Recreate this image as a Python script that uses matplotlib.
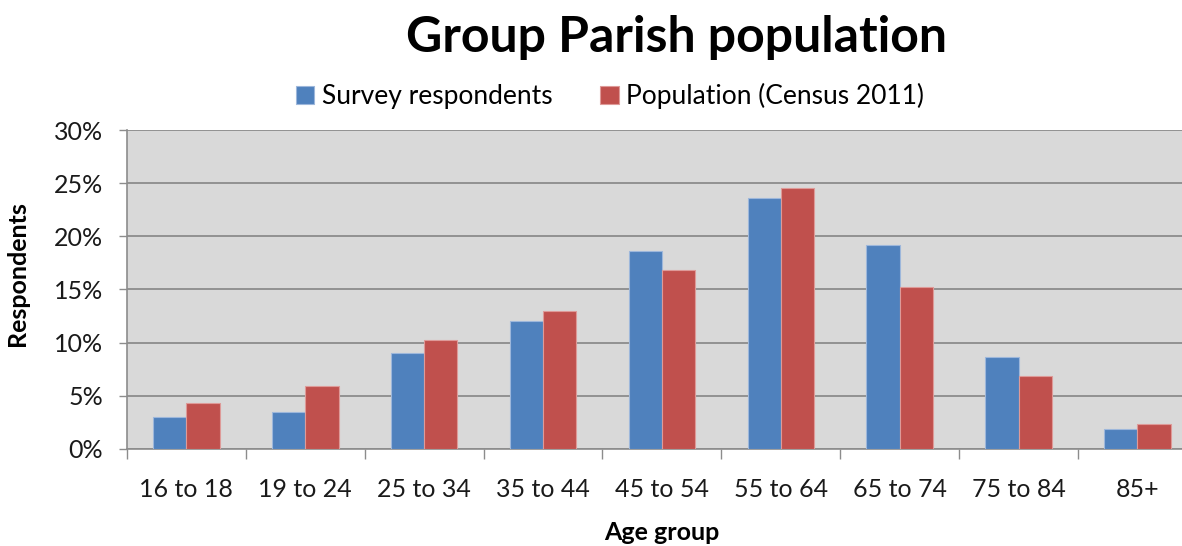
import matplotlib.pyplot as plt
import numpy as np

plt.rcParams['font.family'] = ['Lato', 'DejaVu Sans']

# Data
age_groups = ['16 to 18', '19 to 24', '25 to 34', '35 to 44', '45 to 54',
              '55 to 64', '65 to 74', '75 to 84', '85+']
survey = [3.0, 3.5, 9.0, 12.0, 18.6, 23.6, 19.15, 8.65, 1.9]
census = [4.35, 5.95, 10.25, 12.95, 16.85, 24.5, 15.25, 6.9, 2.35]

fig = plt.figure(figsize=(11.82, 5.46), dpi=100)
ax = fig.add_axes([0.1074, 0.1777, 0.9052, 0.5842])

x = np.arange(len(age_groups))
w = 0.28
ax.bar(x - w / 2, survey, w, color='#4F81BD', edgecolor='#9DB7DB', linewidth=0.8,
       label='Survey respondents', zorder=3)
ax.bar(x + w / 2, census, w, color='#C0504D', edgecolor='#DE9A98', linewidth=0.8,
       label='Population (Census 2011)', zorder=3)

ax.set_facecolor('#D9D9D9')
ax.set_xlim(-0.5, len(age_groups) - 0.5)
ax.set_ylim(0, 30)
ax.set_yticks(range(0, 31, 5))
ax.set_yticklabels([f'{v}%' for v in range(0, 31, 5)])
ax.yaxis.grid(True, color='#8C8C8C', linewidth=1.3, zorder=0)
ax.set_axisbelow(True)

ax.set_xticks(x)
ax.set_xticklabels(age_groups)
ax.set_xticks(np.arange(-0.5, len(age_groups), 1), minor=True)
ax.tick_params(axis='x', which='major', length=0, pad=21, labelsize=18, labelcolor='#1a1a1a')
ax.tick_params(axis='x', which='minor', length=7.5, width=1, color='#8C8C8C', direction='out')
ax.tick_params(axis='y', length=6, width=1, color='#8C8C8C', pad=11, labelsize=18,
               labelcolor='#1a1a1a')

for side in ['top', 'right']:
    ax.spines[side].set_visible(False)
for side in ['left', 'bottom']:
    ax.spines[side].set_color('#8C8C8C')
    ax.spines[side].set_linewidth(1.2)

ax.set_xlabel('Age group', fontsize=18, fontweight='bold', labelpad=14)
ax.set_ylabel('Respondents', fontsize=18, fontweight='bold')
ax.yaxis.set_label_coords(-0.092, 0.55)

fig.text(676 / 1182, 1 - 38 / 546, 'Group Parish population', fontsize=36,
         fontweight='bold', ha='center', va='center')

ax.legend(loc='center', bbox_to_anchor=(610 / 1182, 1 - 96 / 546),
          bbox_transform=fig.transFigure, ncol=2, frameon=False, fontsize=19,
          handlelength=0.7, handleheight=0.7, handletextpad=0.3, columnspacing=1.8)

fig.savefig('out.png', dpi=100)
